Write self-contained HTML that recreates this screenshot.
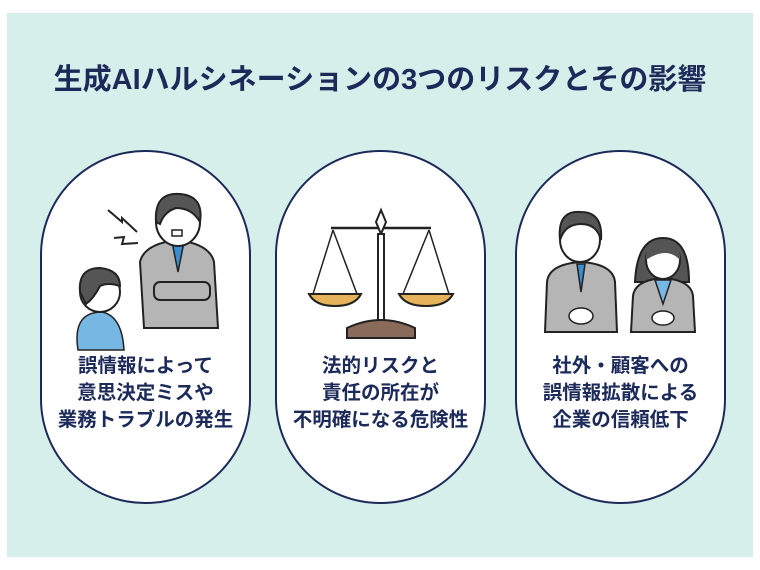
<!DOCTYPE html>
<html><head><meta charset="utf-8"><style>
body{margin:0;width:760px;height:570px;background:#fff;position:relative;overflow:hidden;font-family:"Liberation Sans","Noto Sans CJK JP",sans-serif;}
.panel{position:absolute;left:7px;top:13px;width:746px;height:544px;background:#d7efea;}
.title{position:absolute;left:0;width:760px;top:61px;text-align:center;font-size:29px;font-weight:bold;color:#1c2a5a;line-height:38px;white-space:nowrap;}
.pill{position:absolute;top:150px;width:207px;height:350px;border:2px solid #1c2a5a;border-radius:105px;background:#fff;}
.txt{position:absolute;left:-10px;width:227px;top:201px;text-align:center;font-size:19.5px;font-weight:bold;color:#1c2a5a;line-height:27px;white-space:nowrap;}
svg{position:absolute;left:0;top:0;}
</style></head><body>
<div class="panel"></div>
<div class="title">生成AIハルシネーションの3つのリスクとその影響</div>

<div class="pill" style="left:40px">
<svg width="207" height="200" viewBox="0 0 207 200">
 <polyline points="66,58 80,70 80,66 95,80" fill="none" stroke="#222" stroke-width="2"/>
 <polyline points="72,86 82,85 80,92 96,91" fill="none" stroke="#222" stroke-width="2"/>
 <path d="M102,176 L98,110 Q102,92 135,88 Q168,92 172,110 L176,176Z" fill="#b5b5b5" stroke="#222" stroke-width="2"/>
 <path d="M130,90 L136,120 L142,90Z" fill="#3b8dd0" stroke="#222" stroke-width="1.5"/>
 <rect x="112" y="130" width="56" height="18" rx="6" fill="#b5b5b5" stroke="#222" stroke-width="2"/>
 <ellipse cx="136" cy="70" rx="22" ry="24" fill="#fff" stroke="#222" stroke-width="2"/>
 <path d="M114,70 Q112,40 138,42 Q162,44 158,70 Q150,56 134,56 Q122,60 118,72Z" fill="#555" stroke="#222" stroke-width="2"/>
 <rect x="130" y="78" width="10" height="6" fill="#fff" stroke="#222" stroke-width="1.5"/>
 <path d="M36,198 Q30,160 60,160 Q80,164 82,198Z" fill="#76b8e3" stroke="#222" stroke-width="1.5"/>
 <ellipse cx="58" cy="140" rx="20" ry="20" fill="#fff" stroke="#222" stroke-width="2"/>
 <path d="M38,140 Q36,116 58,116 Q78,118 78,134 Q66,130 58,134 Q52,146 44,152Z" fill="#555" stroke="#222" stroke-width="2"/>
</svg>
<div class="txt">誤情報によって<br>意思決定ミスや<br>業務トラブルの発生</div></div>

<div class="pill" style="left:275px">
<svg width="207" height="200" viewBox="0 0 207 200">
 <line x1="54" y1="76" x2="154" y2="76" stroke="#222" stroke-width="2.5"/>
 <path d="M104,58 L109,70 L104,82 L99,70Z" fill="#fff" stroke="#222" stroke-width="2"/>
 <rect x="101" y="82" width="6" height="92" fill="#fff" stroke="#222" stroke-width="2"/>
 <path d="M70,176 Q104,160 138,176 L138,186 L70,186Z" fill="#8a6a58" stroke="#222" stroke-width="2"/>
 <line x1="56" y1="78" x2="36" y2="142" stroke="#222" stroke-width="1.5"/>
 <line x1="56" y1="78" x2="80" y2="142" stroke="#222" stroke-width="1.5"/>
 <line x1="152" y1="78" x2="126" y2="142" stroke="#222" stroke-width="1.5"/>
 <line x1="152" y1="78" x2="172" y2="142" stroke="#222" stroke-width="1.5"/>
 <path d="M32,142 L84,142 Q78,154 58,154 Q38,154 32,142Z" fill="#e6b25a" stroke="#222" stroke-width="2"/>
 <path d="M122,142 L176,142 Q170,154 149,154 Q128,154 122,142Z" fill="#e6b25a" stroke="#222" stroke-width="2"/>
</svg>
<div class="txt">法的リスクと<br>責任の所在が<br>不明確になる危険性</div></div>

<div class="pill" style="left:515px">
<svg width="207" height="200" viewBox="0 0 207 200">
 <path d="M28,180 L30,130 Q32,112 64,110 Q96,112 98,130 L100,180Z" fill="#b5b5b5" stroke="#222" stroke-width="2"/>
 <path d="M60,112 L64,140 L68,112Z" fill="#3b8dd0" stroke="#222" stroke-width="1.5"/>
 <ellipse cx="63" cy="88" rx="20" ry="22" fill="#fff" stroke="#222" stroke-width="2"/>
 <path d="M43,88 Q40,58 64,60 Q86,60 84,88 Q80,72 64,72 Q48,72 43,88Z" fill="#555" stroke="#222" stroke-width="2"/>
 <ellipse cx="64" cy="164" rx="12" ry="8" fill="#fff" stroke="#222" stroke-width="1.5"/>
 <path d="M118,130 Q120,86 146,86 Q172,86 172,130Z" fill="#555" stroke="#222" stroke-width="2"/>
 <path d="M114,180 L116,144 Q118,128 146,126 Q174,128 176,144 L178,180Z" fill="#b5b5b5" stroke="#222" stroke-width="2"/>
 <path d="M138,128 L146,152 L154,128Z" fill="#76b8e3" stroke="#222" stroke-width="1.5"/>
 <ellipse cx="146" cy="108" rx="17" ry="19" fill="#fff" stroke="#222" stroke-width="2"/>
 <path d="M129,108 Q128,88 146,88 Q164,88 163,108 Q150,94 129,108Z" fill="#555"/>
 <ellipse cx="146" cy="166" rx="11" ry="7" fill="#fff" stroke="#222" stroke-width="1.5"/>
</svg>
<div class="txt">社外・顧客への<br>誤情報拡散による<br>企業の信頼低下</div></div>
</body></html>
